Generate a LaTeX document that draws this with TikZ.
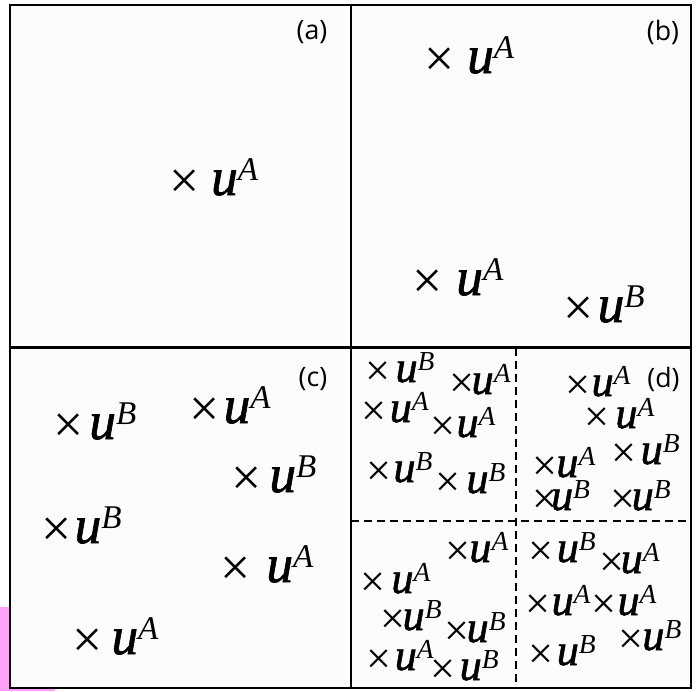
\documentclass[tikz,border=0pt]{standalone}
\usepackage{fontspec}
\setmainfont{Liberation Serif}
\newfontfamily\usrfont{Liberation Serif}
\newfontfamily\ufont{Liberation Serif}[ItalicFeatures={FakeBold=1.2}]
\newfontfamily\tagfont{Open Sans}
\usepackage{graphicx}
\usepackage{xcolor}

\definecolor{pinkpatch}{RGB}{255,160,250}
\definecolor{boxfill}{RGB}{252,252,252}

% cross mark, gap, u with raised label
\newcommand{\usr}[2][0]{\raisebox{-0.07em}{×}\hspace{#1em}{\ufont\itshape u}\raisebox{0.27em}{\scalebox{0.62}{\textit{#2}}}}

\tikzset{
    panel/.style={line width=2pt},
    split/.style={line width=1.9pt, dash pattern=on 5.7pt off 3.6pt},
    usr/.style={inner sep=0pt, anchor=base west, font=\usrfont\fontsize{38}{42}\selectfont},
    usrsmall/.style={usr, font=\usrfont\fontsize{31.5}{35}\selectfont},
    tag/.style={inner sep=0pt, font=\tagfont\fontsize{19}{22}\selectfont}
}

\begin{document}
\begin{tikzpicture}[x=0.025cm, y=-0.025cm]

\useasboundingbox (0,0) rectangle (697,691);

% pink patch behind lower left corner
\fill[pinkpatch] (0,607) rectangle (55,691);

% Frame and quarters
\draw[panel, fill=boxfill] (10,5) rectangle (691,688);
\draw[panel] (351,5) -- (351,688);
\draw[panel] (10,347.5) -- (691,347.5);
\draw[split] (516,347.5) -- (516,688);
\draw[split] (351,521) -- (691,521);

% Panel (a)
\node[tag] (tagA) at (312,32) {(a)};
\node[usr] (a1) at (169,195) {\usr[0.22]{A}};

% Panel (b)
\node[tag] (tagB) at (663,32.5) {(b)};
\node[usr] (b1) at (424,73) {\usr[0.24]{A}};
\node[usr] (b2) at (412,295) {\usr[0.26]{A}};
\node[usr] (b3) at (563,322) {\usr[0.08]{B}};

% Panel (c)
\node[tag] (tagC) at (313,379.5) {(c)};
\node[usr] (c1) at (53,439) {\usr[0.11]{B}};
\node[usr] (c2) at (189,423) {\usr[0.08]{A}};
\node[usr] (c3) at (231,492) {\usr[0.15]{B}};
\node[usr] (c4) at (41,543) {\usr[0.06]{B}};
\node[usr] (c5) at (220,582) {\usr[0.3]{A}};
\node[usr] (c6) at (72,654) {\usr[0.17]{A}};

% Panel (d)
\node[tag] (tagD) at (663.5,379) {(d)};
% upper left
\node[usrsmall] (d1) at (365,382) {\usr[0.12]{B}};
\node[usrsmall] (d2) at (449,394) {\usr[-0.06]{A}};
\node[usrsmall] (d3) at (361,422) {\usr[0.08]{A}};
\node[usrsmall] (d4) at (430,437) {\usr[0.03]{A}};
\node[usrsmall] (d5) at (366,482) {\usr[0.05]{B}};
\node[usrsmall] (d6) at (435,493) {\usr[0.14]{B}};
% upper right
\node[usrsmall] (d7) at (565,396) {\usr[0.03]{A}};
\node[usrsmall] (d8) at (584,428) {\usr[0.14]{A}};
\node[usrsmall] (d9) at (611,464) {\usr[0.1]{B}};
\node[usrsmall] (d10) at (532,477) {\usr[-0.02]{A}};
\node[usrsmall] (d11) at (532,510) {\usr[-0.14]{B}};
\node[usrsmall] (d12) at (610,510) {\usr[-0.08]{B}};
% lower left
\node[usrsmall] (d13) at (445,562) {\usr[-0.02]{A}};
\node[usrsmall] (d14) at (360,593) {\usr[0.14]{A}};
\node[usrsmall] (d15) at (380,630) {\usr[-0.06]{B}};
\node[usrsmall] (d16) at (444,642) {\usr[-0.06]{B}};
\node[usrsmall] (d17) at (366,670) {\usr[0.08]{A}};
\node[usrsmall] (d18) at (430,680) {\usr[0.1]{B}};
% lower right
\node[usrsmall] (d19) at (528,562) {\usr[0.08]{B}};
\node[usrsmall] (d20) at (599,573) {\usr[-0.08]{A}};
\node[usrsmall] (d21) at (525,615) {\usr[0.03]{A}};
\node[usrsmall] (d22) at (591,615) {\usr[0.03]{A}};
\node[usrsmall] (d23) at (618,650) {\usr[-0.02]{B}};
\node[usrsmall] (d24) at (528,665) {\usr[0.08]{B}};

\end{tikzpicture}
\end{document}
